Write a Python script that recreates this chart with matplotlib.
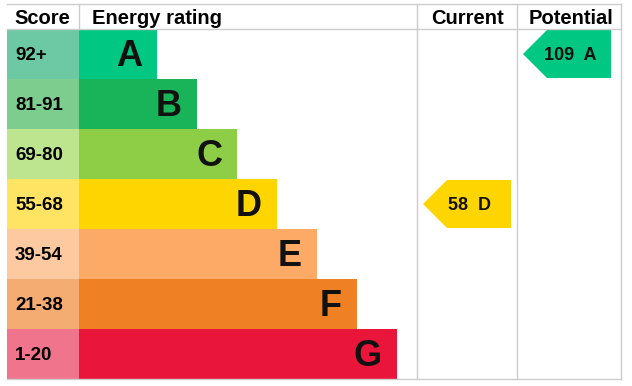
import matplotlib.pyplot as plt
from matplotlib.patches import Rectangle, Polygon

bands = ["A", "B", "C", "D", "E", "F", "G"]
scores = ["92+", "81-91", "69-80", "55-68", "39-54", "21-38", "1-20"]
bar_colors = ["#00c781", "#19b459", "#8dce46", "#ffd500", "#fcaa65", "#ef8023", "#e9153b"]
score_colors = ["#6cc9a3", "#7dcd8e", "#bde48f", "#ffe463", "#fdc9a0", "#f5ac72", "#f0758c"]
current_value, current_band = 58, "D"
potential_value, potential_band = 109, "A"

plt.rcParams['font.family'] = ['Liberation Sans', 'DejaVu Sans']
fig = plt.figure(figsize=(6.32, 3.86), dpi=100)
ax = fig.add_axes([0, 0, 1, 1])
ax.set_xlim(0, 632)
ax.set_ylim(386, 0)
ax.axis('off')

top, head, row_h = 4, 29, 50
left, score_w, bar_x = 7, 72, 79
right, cur_x, pot_x = 621, 417, 517
grid = "#cccccc"

# header
ax.text(14, 18, "Score", fontsize=14.5, fontweight='bold', va='center')
ax.text(92, 18, "Energy rating", fontsize=14.5, fontweight='bold', va='center')
ax.text(467, 18, "Current", fontsize=14.5, fontweight='bold', va='center', ha='center')
ax.text(571, 18, "Potential", fontsize=14.5, fontweight='bold', va='center', ha='center')

for i, b in enumerate(bands):
    y = head + i * row_h
    w = 78 + 40 * i
    ax.add_patch(Rectangle((left, y), score_w, row_h, color=score_colors[i], lw=0))
    ax.add_patch(Rectangle((bar_x, y), w, row_h, color=bar_colors[i], lw=0))
    ax.text(15, y + row_h / 2 + 1, scores[i], fontsize=13.5, fontweight='bold', va='center')
    ax.text(bar_x + w - 15, y + row_h / 2 + 3, b, fontsize=26, fontweight='bold',
            va='center', ha='right', color='#111111')

bottom = head + 7 * row_h

# grid lines
ax.plot([left, right], [top, top], color=grid, lw=1)
ax.plot([left, right], [head, head], color=grid, lw=1)
ax.plot([left, right], [bottom, bottom], color=grid, lw=1)
ax.plot([bar_x, bar_x], [top, head], color=grid, lw=1)
for x in [cur_x, pot_x, right]:
    ax.plot([x, x], [top, bottom], color=grid, lw=1)


def arrow(x0, value, band):
    i = bands.index(band)
    y = head + i * row_h
    y0, y1 = y + 1, y + row_h - 1
    x1 = x0 + 94
    pts = [(x0 + 6, (y0 + y1) / 2), (x0 + 30, y0), (x1, y0), (x1, y1), (x0 + 30, y1)]
    ax.add_patch(Polygon(pts, closed=True, color=bar_colors[i], lw=0))
    ax.text(x0 + 53, (y0 + y1) / 2 + 1, f"{value}  {band}", fontsize=13,
            fontweight='bold', va='center', ha='center', color='#111111')


arrow(cur_x, current_value, current_band)
arrow(pot_x, potential_value, potential_band)

fig.savefig("out.png", dpi=100)
